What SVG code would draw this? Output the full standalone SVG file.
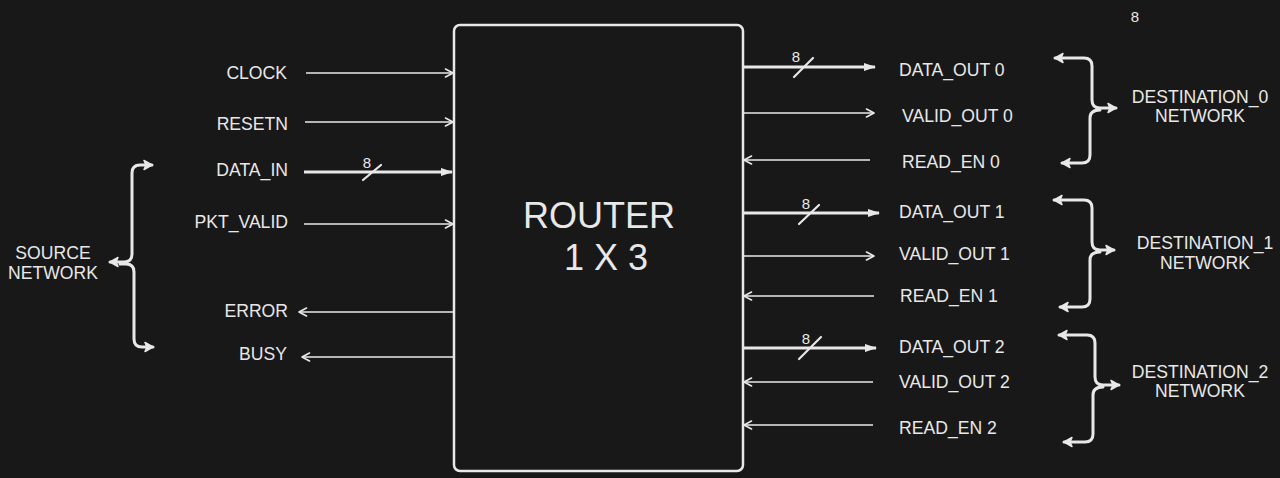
<svg xmlns="http://www.w3.org/2000/svg" width="1280" height="478" viewBox="0 0 1280 478">
<defs>
<style>
.bg{fill:#181818}
text{font-family:"Liberation Sans",Arial,sans-serif;fill:#e8e8e8}
.lbl{font-size:17.6px}
.r{text-anchor:end}
.m{text-anchor:middle}
.bw{font-size:15px;text-anchor:middle}
.thin{stroke:#e8e8e8;stroke-width:1.6;fill:none}
.thick{stroke:#e8e8e8;stroke-width:3;fill:none}
.brace{stroke:#e8e8e8;stroke-width:3;fill:none;stroke-linecap:round}
.slash{stroke:#e8e8e8;stroke-width:2.2;stroke-linecap:round}
</style>
<marker id="open" viewBox="0 0 10 10" refX="9" refY="5" markerWidth="10" markerHeight="10" markerUnits="userSpaceOnUse" orient="auto">
<path d="M1.5,1 L9,5 L1.5,9" fill="none" stroke="#e8e8e8" stroke-width="1.6" stroke-linecap="round" stroke-linejoin="round"/>
</marker>
<marker id="fill" viewBox="0 0 12 10" refX="11" refY="5" markerWidth="12" markerHeight="10" markerUnits="userSpaceOnUse" orient="auto">
<path d="M0,1 L12,5 L0,9 Z" fill="#e8e8e8"/>
</marker>
<marker id="bra" viewBox="0 0 12 12" refX="10" refY="6" markerWidth="12" markerHeight="12" markerUnits="userSpaceOnUse" orient="auto-start-reverse">
<path d="M2,1.5 L10,6 L2,10.5 L4,6 Z" fill="#e8e8e8" stroke="#e8e8e8" stroke-width="1.5" stroke-linejoin="round"/>
</marker>
</defs>
<rect class="bg" x="0" y="0" width="1280" height="478"/>

<g id="router">
<rect x="454" y="25" width="289" height="446" rx="6" fill="#181818" stroke="#e8e8e8" stroke-width="2.5"/>
<text x="599" y="228" class="m" font-size="36">ROUTER</text>
<text x="606" y="270" class="m" font-size="36">1 X 3</text>
</g>

<g id="connectors">
<line class="thin" x1="306" y1="73" x2="453" y2="73" marker-end="url(#open)"/>
<line class="thin" x1="305" y1="122" x2="453" y2="122" marker-end="url(#open)"/>
<line class="thick" x1="304" y1="172" x2="452" y2="172" marker-end="url(#fill)"/>
<line class="thin" x1="304" y1="224" x2="453" y2="224" marker-end="url(#open)"/>
<line class="thin" x1="454" y1="312" x2="299" y2="312" marker-end="url(#open)"/>
<line class="thin" x1="454" y1="357" x2="302" y2="357" marker-end="url(#open)"/>

<line class="thick" x1="743" y1="67" x2="875" y2="67" marker-end="url(#fill)"/>
<line class="thin" x1="743" y1="113" x2="874" y2="113" marker-end="url(#open)"/>
<line class="thin" x1="870" y1="160" x2="744" y2="160" marker-end="url(#open)"/>
<line class="thick" x1="743" y1="213" x2="879" y2="213" marker-end="url(#fill)"/>
<line class="thin" x1="743" y1="256" x2="874" y2="256" marker-end="url(#open)"/>
<line class="thin" x1="874" y1="296" x2="744" y2="296" marker-end="url(#open)"/>
<line class="thick" x1="743" y1="348" x2="876" y2="348" marker-end="url(#fill)"/>
<line class="thin" x1="873" y1="382" x2="744" y2="382" marker-end="url(#open)"/>
<line class="thin" x1="873" y1="425" x2="744" y2="425" marker-end="url(#open)"/>

<line class="slash" x1="363" y1="180" x2="381" y2="165"/>
<line class="slash" x1="794" y1="77" x2="813" y2="58"/>
<line class="slash" x1="799" y1="224" x2="819" y2="205"/>
<line class="slash" x1="799" y1="359" x2="821" y2="337"/>
</g>

<g id="bus-widths">
<text x="367" y="168" class="bw">8</text>
<text x="796" y="62" class="bw">8</text>
<text x="806" y="209" class="bw">8</text>
<text x="806" y="344" class="bw">8</text>
<text x="1135" y="22" class="bw">8</text>
</g>

<g id="inputs-labels">
<text x="287" y="79" class="lbl r">CLOCK</text>
<text x="288" y="130" class="lbl r">RESETN</text>
<text x="288" y="176" class="lbl r">DATA_IN</text>
<text x="288" y="228" class="lbl r">PKT_VALID</text>
<text x="288" y="317" class="lbl r">ERROR</text>
<text x="287" y="360" class="lbl r">BUSY</text>
</g>

<g id="outputs-labels">
<text x="899" y="76" class="lbl">DATA_OUT 0</text>
<text x="902" y="122" class="lbl">VALID_OUT 0</text>
<text x="902" y="168" class="lbl">READ_EN 0</text>
<text x="899" y="218" class="lbl">DATA_OUT 1</text>
<text x="899" y="260" class="lbl">VALID_OUT 1</text>
<text x="900" y="302" class="lbl">READ_EN 1</text>
<text x="899" y="353" class="lbl">DATA_OUT 2</text>
<text x="899" y="388" class="lbl">VALID_OUT 2</text>
<text x="899" y="434" class="lbl">READ_EN 2</text>
</g>

<g id="source-network">
<path class="brace" d="M152,165 H140 Q132,165 132,173 V254 Q132,262 124,262 H110" marker-start="url(#bra)" marker-end="url(#bra)"/>
<path class="brace" d="M120,264 H126 Q134,264 134,272 V339 Q134,347 142,347 H153" marker-end="url(#bra)"/>
<text x="53" y="259" class="lbl m">SOURCE</text>
<text x="53" y="279" class="lbl m">NETWORK</text>
</g>

<g id="destination0">
<path class="brace" d="M1055,58 H1084 Q1092,58 1092,66 V100 Q1092,108 1100,108 H1116" marker-start="url(#bra)" marker-end="url(#bra)"/>
<path class="brace" d="M1100,110 Q1090,110 1090,118 V155 Q1090,163 1082,163 H1062" marker-end="url(#bra)"/>
<text x="1200" y="103" class="lbl m">DESTINATION_0</text>
<text x="1200" y="122" class="lbl m">NETWORK</text>
</g>

<g id="destination1">
<path class="brace" d="M1054,200 H1084 Q1092,200 1092,208 V242 Q1092,250 1100,250 H1114" marker-start="url(#bra)" marker-end="url(#bra)"/>
<path class="brace" d="M1100,252 Q1090,252 1090,260 V299 Q1090,307 1082,307 H1060" marker-end="url(#bra)"/>
<text x="1205" y="249" class="lbl m">DESTINATION_1</text>
<text x="1205" y="269" class="lbl m">NETWORK</text>
</g>

<g id="destination2">
<path class="brace" d="M1059,335 H1087 Q1095,335 1095,343 V377 Q1095,385 1103,385 H1119" marker-start="url(#bra)" marker-end="url(#bra)"/>
<path class="brace" d="M1103,387 Q1093,387 1093,395 V434 Q1093,442 1085,442 H1064" marker-end="url(#bra)"/>
<text x="1200" y="378" class="lbl m">DESTINATION_2</text>
<text x="1200" y="397" class="lbl m">NETWORK</text>
</g>
</svg>
